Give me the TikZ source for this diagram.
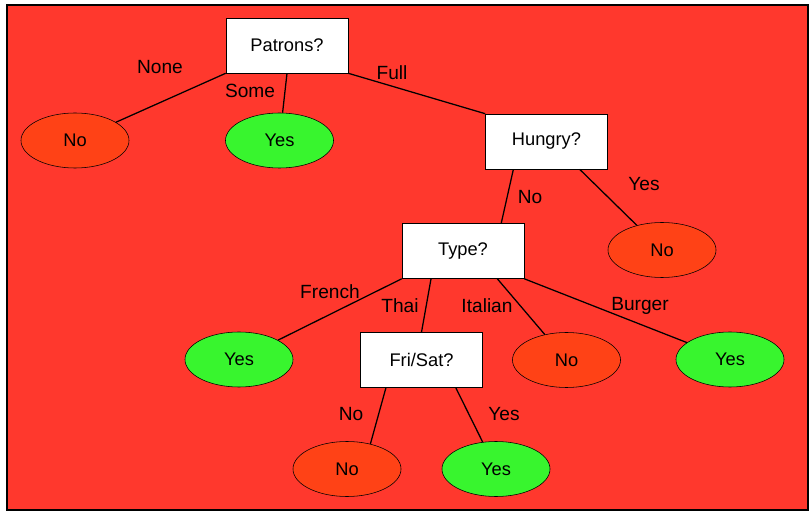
\documentclass[tikz,border=0pt]{standalone}
\usepackage{fontspec}
\setmainfont{Liberation Sans}
\usetikzlibrary{positioning,calc,shapes.geometric}
\definecolor{bgred}{RGB}{255,56,45}
\definecolor{nored}{RGB}{255,66,22}
\definecolor{yesgreen}{RGB}{56,245,46}
\tikzset{test/.style={draw,fill=white,minimum width=3.05cm,minimum height=1.375cm,inner sep=0pt,font=\fontsize{13}{15}\selectfont},
         leafno/.style={draw,ellipse,fill=nored,minimum width=2.7cm,minimum height=1.375cm,inner sep=0pt,font=\fontsize{13}{15}\selectfont},
         leafyes/.style={leafno,fill=yesgreen},
         branch/.style={inner sep=0pt,font=\fontsize{13.6}{15}\selectfont}
}
\tikzstyle{link} = [line width=0.9pt]

\begin{document}
\begin{tikzpicture}[x=0.025cm,y=-0.025cm]

\useasboundingbox (0,0) rectangle (810,511);
\draw[fill=bgred,line width=1pt] (7,5) rectangle (808,510);

\node[test] (patrons) at (287,45.5) {Patrons?};
\node[leafno] (nonone) at (75,140.5) {No};
\node[leafyes] (yessome) at (279.5,140.5) {Yes};
\node[test] (hungry) at (546.5,141.5) {Hungry?};
\node[leafno] (nohungry) at (662,250) {No};
\node[test] (type) at (463,251) {Type?};
\node[leafyes] (yesfrench) at (239,359.5) {Yes};
\node[test] (frisat) at (421.5,360) {Fri/Sat?};
\node[leafno] (noitalian) at (566.5,360) {No};
\node[leafyes] (yesburger) at (730,359.5) {Yes};
\node[leafno] (nofrisat) at (347,469) {No};
\node[leafyes] (yesfrisat) at (496,469) {Yes};

\node[branch] (lnone) at (160,67) {None};
\node[branch] (lsome) at (250,91) {Some};
\node[branch] (lfull) at (392,73) {Full};
\node[branch] (lhungryno) at (530,197) {No};
\node[branch] (lhungryyes) at (644,184) {Yes};
\node[branch] (lfrench) at (330,292) {French};
\node[branch] (lthai) at (400,306) {Thai};
\node[branch] (litalian) at (487,306) {Italian};
\node[branch] (lburger) at (640,306) {Burger};
\node[branch] (lfrisatno) at (351,414) {No};
\node[branch] (lfrisatyes) at (504,414) {Yes};

\draw[link] (patrons.south west)--(nonone);
\draw[link] (patrons.south)--(yessome);
\draw[link] (patrons.south east)--(hungry.north west);
\draw[link] (hungry.220)--(type.36);
\draw[link] (hungry.320)--(nohungry);
\draw[link] (type.south west)--(yesfrench);
\draw[link] (type.221)--(frisat.north);
\draw[link] (type.321)--(noitalian);
\draw[link] (type.south east)--(yesburger);
\draw[link] (frisat.218)--(nofrisat.47);
\draw[link] (frisat.321)--(yesfrisat);

\end{tikzpicture}
\end{document}
